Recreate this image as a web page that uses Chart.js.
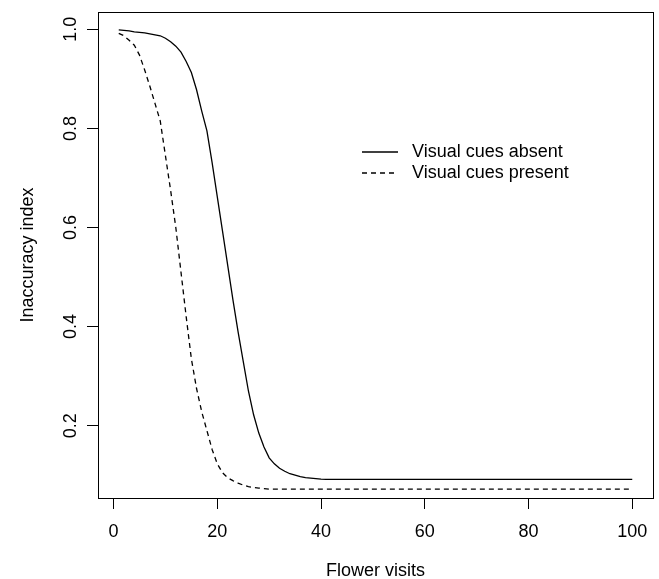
<!DOCTYPE html>
<html>
<head>
<meta charset="utf-8">
<title>Inaccuracy index vs flower visits</title>
<script src="https://cdn.jsdelivr.net/npm/chart.js@4/dist/chart.umd.min.js"></script>
<style>
  html, body { margin: 0; padding: 0; background: #fff; }
  #chart { display: block; }
</style>
</head>
<body>
<canvas id="chart" width="659" height="579"></canvas>
<script>
/* ---------- data ---------- */
const visits = [
  1, 2, 3, 4, 5, 6, 7, 8, 9, 10,
  11, 12, 13, 14, 15, 16, 17, 18, 19, 20,
  21, 22, 23, 24, 25, 26, 27, 28, 29, 30,
  31, 32, 33, 34, 35, 36, 37, 38, 39, 40,
  41, 42, 43, 44, 45, 46, 47, 48, 49, 50,
  51, 52, 53, 54, 55, 56, 57, 58, 59, 60,
  61, 62, 63, 64, 65, 66, 67, 68, 69, 70,
  71, 72, 73, 74, 75, 76, 77, 78, 79, 80,
  81, 82, 83, 84, 85, 86, 87, 88, 89, 90,
  91, 92, 93, 94, 95, 96, 97, 98, 99, 100
];

// solid line
const cuesAbsent = [
  0.999, 0.998, 0.997, 0.995, 0.994, 0.993, 0.991, 0.989, 0.987, 0.982,
  0.975, 0.966, 0.954, 0.935, 0.913, 0.878, 0.835, 0.795, 0.731, 0.662,
  0.593, 0.524, 0.455, 0.390, 0.330, 0.270, 0.222, 0.185, 0.157, 0.135,
  0.123, 0.114, 0.108, 0.103, 0.100, 0.097, 0.095, 0.094, 0.093, 0.092,
  0.0915, 0.0915, 0.0915, 0.0915, 0.0915, 0.0915, 0.0915, 0.0915, 0.0915, 0.0915,
  0.0915, 0.0915, 0.0915, 0.0915, 0.0915, 0.0915, 0.0915, 0.0915, 0.0915, 0.0915,
  0.0915, 0.0915, 0.0915, 0.0915, 0.0915, 0.0915, 0.0915, 0.0915, 0.0915, 0.0915,
  0.0915, 0.0915, 0.0915, 0.0915, 0.0915, 0.0915, 0.0915, 0.0915, 0.0915, 0.0915,
  0.0915, 0.0915, 0.0915, 0.0915, 0.0915, 0.0915, 0.0915, 0.0915, 0.0915, 0.0915,
  0.0915, 0.0915, 0.0915, 0.0915, 0.0915, 0.0915, 0.0915, 0.0915, 0.0915, 0.0915
];

// dashed line
const cuesPresent = [
  0.992, 0.987, 0.978, 0.968, 0.948, 0.918, 0.885, 0.850, 0.815, 0.745,
  0.675, 0.600, 0.510, 0.420, 0.335, 0.275, 0.228, 0.190, 0.152, 0.123,
  0.105, 0.095, 0.089, 0.084, 0.080, 0.077, 0.075, 0.074, 0.073, 0.072,
  0.072, 0.072, 0.072, 0.072, 0.072, 0.072, 0.072, 0.072, 0.072, 0.072,
  0.072, 0.072, 0.072, 0.072, 0.072, 0.072, 0.072, 0.072, 0.072, 0.072,
  0.072, 0.072, 0.072, 0.072, 0.072, 0.072, 0.072, 0.072, 0.072, 0.072,
  0.072, 0.072, 0.072, 0.072, 0.072, 0.072, 0.072, 0.072, 0.072, 0.072,
  0.072, 0.072, 0.072, 0.072, 0.072, 0.072, 0.072, 0.072, 0.072, 0.072,
  0.072, 0.072, 0.072, 0.072, 0.072, 0.072, 0.072, 0.072, 0.072, 0.072,
  0.072, 0.072, 0.072, 0.072, 0.072, 0.072, 0.072, 0.072, 0.072, 0.072
];

const seriesNames = ['Visual cues absent', 'Visual cues present'];
const xTicks = [0, 20, 40, 60, 80, 100];
const yTicks = [0.2, 0.4, 0.6, 0.8, 1.0];

/* ---------- look ---------- */
const FONT = '"Liberation Sans", Arial, Helvetica, sans-serif';
const INK = '#000';

const toPoints = ys => visits.map((x, i) => ({ x, y: ys[i] }));

/* box around the plot region, like R's box() */
const boxPlugin = {
  id: 'plotBox',
  afterDraw(chart) {
    const { ctx, chartArea: a } = chart;
    ctx.save();
    ctx.strokeStyle = INK;
    ctx.lineWidth = 1;
    ctx.strokeRect(Math.round(a.left) + 0.5, Math.round(a.top) + 0.5,
      Math.round(a.right - a.left), Math.round(a.bottom - a.top));
    ctx.restore();
  }
};

/* legend placed inside the plot, no frame */
const insideLegend = {
  id: 'insideLegend',
  afterDraw(chart) {
    const { ctx } = chart;
    const x0 = 362, x1 = 398, tx = 412;
    const rows = [152, 173];
    ctx.save();
    ctx.font = '18px ' + FONT;
    ctx.textBaseline = 'middle';
    ctx.fillStyle = INK;
    chart.data.datasets.forEach((ds, i) => {
      const y = rows[i];
      ctx.beginPath();
      ctx.setLineDash(ds.borderDash || []);
      ctx.lineWidth = ds.borderWidth;
      ctx.strokeStyle = ds.borderColor;
      ctx.moveTo(x0, y);
      ctx.lineTo(x1, y);
      ctx.stroke();
      ctx.setLineDash([]);
      ctx.fillText(ds.label, tx, y);
    });
    ctx.restore();
  }
};

const tickGrid = {
  display: true,
  drawOnChartArea: false,
  drawTicks: true,
  tickLength: 11,
  tickColor: INK,
  tickWidth: 1
};

new Chart(document.getElementById('chart'), {
  type: 'line',
  data: {
    datasets: [
      {
        label: seriesNames[0],
        data: toPoints(cuesAbsent),
        borderColor: INK,
        borderWidth: 1.3,
        pointRadius: 0,
        tension: 0,
        fill: false
      },
      {
        label: seriesNames[1],
        data: toPoints(cuesPresent),
        borderColor: INK,
        borderWidth: 1.3,
        borderDash: [5, 4],
        pointRadius: 0,
        tension: 0,
        fill: false
      }
    ]
  },
  options: {
    responsive: false,
    animation: false,
    devicePixelRatio: 1,
    layout: { padding: { top: 12, right: 6, left: 0, bottom: 0 } },
    plugins: {
      legend: { display: false },
      tooltip: { enabled: false }
    },
    scales: {
      x: {
        type: 'linear',
        min: -3,
        max: 104,
        afterBuildTicks: s => { s.ticks = xTicks.map(v => ({ value: v })); },
        afterFit: s => { s.height = 81; s.paddingLeft = 0; s.paddingRight = 0; },
        grid: tickGrid,
        border: { display: true, color: INK, width: 1 },
        ticks: {
          color: INK,
          font: { family: FONT, size: 18 },
          padding: 12,
          maxRotation: 0,
          autoSkip: false
        },
        title: {
          display: true,
          text: 'Flower visits',
          color: INK,
          font: { family: FONT, size: 18 },
          padding: { top: 0, bottom: -3 }
        }
      },
      y: {
        type: 'linear',
        min: 0.054,
        max: 1.035,
        afterBuildTicks: s => { s.ticks = yTicks.map(v => ({ value: v })); },
        afterFit: s => { s.width = 98; s.paddingTop = 0; s.paddingBottom = 0; },
        grid: tickGrid,
        border: { display: true, color: INK, width: 1 },
        ticks: {
          color: INK,
          font: { family: FONT, size: 18 },
          padding: 3,
          minRotation: 90,
          maxRotation: 90,
          crossAlign: 'center',
          autoSkip: false,
          callback: v => v.toFixed(1)
        },
        title: {
          display: true,
          text: 'Inaccuracy index',
          color: INK,
          font: { family: FONT, size: 18 },
          padding: { top: 17, bottom: 0 }
        }
      }
    }
  },
  plugins: [boxPlugin, insideLegend]
});
</script>
</body>
</html>
